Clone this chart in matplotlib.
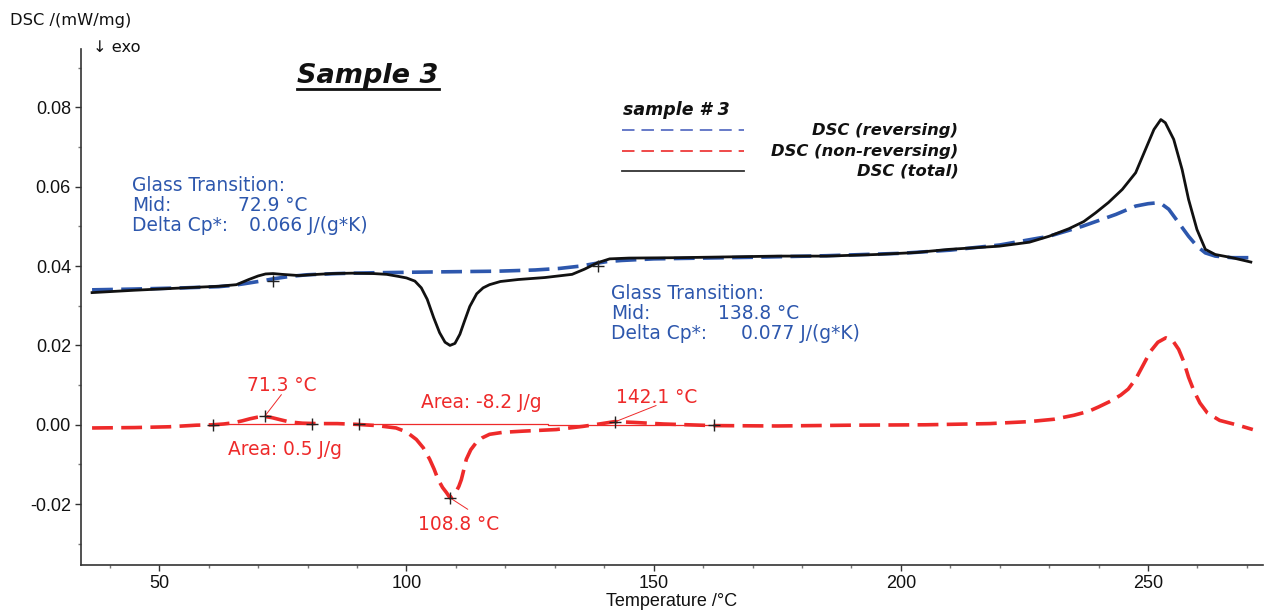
import matplotlib
matplotlib.use("Agg")
import matplotlib.pyplot as plt
from matplotlib.lines import Line2D
from matplotlib.ticker import MultipleLocator, FixedLocator

plt.rcParams['font.family'] = ['DejaVu Sans']
plt.rcParams['lines.scale_dashes'] = False

# ---------------- data ----------------
t_total = [36.4, 45, 55, 62, 65.6, 68.1, 70, 71.5, 73, 74.8, 78.2, 82, 85, 89, 93.3,
           96, 98.3, 100, 101.7, 103, 104.2, 105.5, 106.7, 107.8, 108.8, 109.8,
           110.8, 111.7, 112.8, 114.2, 115.5, 116.8, 119, 122.6, 128, 133.5, 136,
           138.6, 141.1, 145, 155, 165, 175, 185, 195, 203, 209.8, 219.9, 226, 230,
           234, 237, 239.4, 242, 244.8, 247.5, 249.5, 251.2, 252.6, 253.5, 255.2,
           256.9, 258.2, 259.9, 261.6, 263.6, 267, 270.8]
dsc_total = [0.0333, 0.0339, 0.0345, 0.0349, 0.0353, 0.0366, 0.0375, 0.0380, 0.0381,
             0.0379, 0.0376, 0.0379, 0.0381, 0.0382, 0.0381, 0.0379, 0.0374, 0.0370,
             0.0362, 0.0345, 0.0316, 0.0270, 0.0232, 0.0208, 0.0200, 0.0205, 0.0228,
             0.0260, 0.0298, 0.0330, 0.0345, 0.0353, 0.0361, 0.0366, 0.0371, 0.0379,
             0.0392, 0.0408, 0.0418, 0.0420, 0.0421, 0.0423, 0.0425, 0.0425, 0.0429,
             0.0434, 0.0442, 0.0450, 0.0460, 0.0475, 0.0494, 0.0512, 0.0534, 0.0560,
             0.0593, 0.0635, 0.0694, 0.0744, 0.0769, 0.0761, 0.0719, 0.0643, 0.0568,
             0.0492, 0.0442, 0.0429, 0.0421, 0.0410]

t_rev = [36.4, 45, 55, 62, 64.8, 67, 69, 71, 73.2, 76.5, 80, 86, 93.3, 105, 118.5,
         126, 131, 135.3, 138, 140.5, 143.5, 150, 160, 170, 185, 200, 210, 220, 230,
         236.7, 243.5, 247.5, 250, 251.6, 252.9, 254.2, 256.2, 258.2, 259.9, 261.6,
         263.6, 267, 270.8]
dsc_rev = [0.0340, 0.0342, 0.0345, 0.0348, 0.0351, 0.0355, 0.0359, 0.0363, 0.0368,
           0.0374, 0.0378, 0.0381, 0.0383, 0.0385, 0.0387, 0.0390, 0.0394, 0.0400,
           0.0406, 0.0411, 0.0414, 0.0418, 0.0420, 0.0422, 0.0426, 0.0432, 0.0440,
           0.0453, 0.0475, 0.0500, 0.0530, 0.0551, 0.0557, 0.0559, 0.0555, 0.0543,
           0.0509, 0.0475, 0.0450, 0.0433, 0.0425, 0.0421, 0.0421]

t_nonrev = [36.4, 45, 52, 57.5, 60.8, 63, 65, 66.8, 68.3, 69.8, 71.3, 72.8, 74.4,
            76.4, 79, 82, 86, 90, 94, 97.9, 100, 102, 103.4, 104.7, 105.6, 106.4,
            107.3, 108.1, 108.8, 109.5, 110.1, 110.6, 111.1, 111.6, 112.1, 113,
            114.1, 115.3, 116.8, 119.5, 123.6, 130.3, 135.7, 139, 142.1, 146, 152,
            162, 175, 190, 205, 218, 226, 231, 235, 238, 240, 242.5, 244.5, 246,
            247.5, 249, 250.5, 252, 253.6, 255, 256.2, 257.2, 258.2, 259.3, 260.5,
            262, 264.5, 268.5, 271.2]
dsc_nonrev = [-0.0008, -0.0007, -0.0005, -0.0001, 0.0000, 0.0002, 0.0005, 0.0010,
              0.0015, 0.0019, 0.0021, 0.0018, 0.0013, 0.0007, 0.0004, 0.0003, 0.0003,
              0.0001, -0.0002, -0.0008, -0.0018, -0.0037, -0.0058, -0.0087, -0.0112,
              -0.0138, -0.0158, -0.0171, -0.0184, -0.0178, -0.0167, -0.0155, -0.0138,
              -0.0113, -0.0087, -0.0063, -0.0045, -0.0033, -0.0024, -0.0019, -0.0016,
              -0.0012, -0.0004, 0.0002, 0.0008, 0.0006, 0.0002, -0.0002, -0.0003,
              -0.0001, 0.0000, 0.0003, 0.0008, 0.0014, 0.0024, 0.0034, 0.0045, 0.0060,
              0.0075, 0.0090, 0.0115, 0.0150, 0.0185, 0.0208, 0.0219, 0.0212, 0.0190,
              0.0160, 0.0120, 0.0085, 0.0055, 0.0030, 0.0011, -0.0002, -0.0012]

# evaluation markers on the non-reversing curve
mark_t = [60.8, 71.3, 80.9, 90.4, 108.8, 142.1, 162.2]
mark_v = [0.0000, 0.0021, 0.0003, 0.0002, -0.0184, 0.0007, 0.0000]
# glass-transition mid points on the reversing curve
tg_t = [72.9, 138.8]
tg_v = [0.0363, 0.0400]
# integration baselines
base1_t = [60.8, 80.9]
base1_v = [0.0002, 0.0002]
base2_t = [90.4, 128.6, 128.6, 162.2]
base2_v = [0.0003, 0.0003, 0.0000, 0.0000]

x_ticks = [50, 100, 150, 200, 250]
y_ticks = [-0.02, 0.00, 0.02, 0.04, 0.06, 0.08]

BLUE = '#2d57ad'
RED = '#ee2a2a'
BLACK = '#111111'

W, H = 1268, 615
fig = plt.figure(figsize=(W / 100, H / 100), dpi=100)
ax = fig.add_axes([80.7 / W, 1 - 565.3 / H, (1262.7 - 80.7) / W, (565.3 - 49.3) / H])

ax.plot(t_rev, dsc_rev, color=BLUE, lw=2.6, linestyle=(0, (15, 6)), zorder=3,
        solid_joinstyle='round', dash_joinstyle='round')
ax.plot(t_total, dsc_total, color=BLACK, lw=2.0, zorder=4, solid_joinstyle='round')
ax.plot(t_nonrev, dsc_nonrev, color=RED, lw=2.6, linestyle=(0, (15, 6)), zorder=3,
        dash_joinstyle='round')
ax.plot(base1_t, base1_v, color=RED, lw=0.9, zorder=2)
ax.plot(base2_t, base2_v, color=RED, lw=0.9, zorder=2)
ax.plot(mark_t, mark_v, linestyle='none', marker='+', ms=9, mew=1.0, color='#222222', zorder=5)
ax.plot(tg_t, tg_v, linestyle='none', marker='+', ms=9, mew=1.0, color='#222222', zorder=5)

ax.set_xlim(34.1, 273.2)
ax.set_ylim(-0.0354, 0.0946)
for s in ['top', 'right']:
    ax.spines[s].set_visible(False)
for s in ['left', 'bottom']:
    ax.spines[s].set_linewidth(1.2)
    ax.spines[s].set_color('#333333')

ax.xaxis.set_major_locator(FixedLocator(x_ticks))
ax.xaxis.set_minor_locator(MultipleLocator(10))
ax.yaxis.set_major_locator(FixedLocator(y_ticks))
ax.yaxis.set_minor_locator(MultipleLocator(0.01))
ax.set_xticklabels([str(v) for v in x_ticks])
ax.set_yticklabels(['%.2f' % v for v in y_ticks])
ax.tick_params(which='major', direction='out', length=4, width=1.0, color='#333333',
               labelsize=13, pad=3)
ax.tick_params(which='minor', direction='out', length=2.5, width=1.0, color='#777777')
for lab in ax.get_xticklabels() + ax.get_yticklabels():
    lab.set_family('Liberation Sans')
    lab.set_color('#111111')

ax.set_xlabel('Temperature /°C', family='Liberation Sans', fontsize=13, color='#111111',
              labelpad=1)

def fx(x):
    return x / W

def fy(y):
    return 1 - y / H

fig.text(fx(10), fy(20.7), 'DSC /(mW/mg)', fontsize=11.7, va='center', ha='left', color='#111111')
fig.text(fx(93), fy(48), '↓ exo', fontsize=11.7, va='center', ha='left', color='#111111')

# title with underline
title = fig.text(fx(368), fy(83), 'Sample 3', fontsize=19.5, fontweight='bold', style='italic',
                 ha='center', va='baseline', color='#111111')
fig.canvas.draw()
bb = title.get_window_extent(fig.canvas.get_renderer())
fig.add_artist(Line2D([bb.x0 / W, bb.x1 / W], [fy(88.5), fy(88.5)], transform=fig.transFigure,
                      color='#111111', lw=2.0))

# legend drawn as in the original software
fig.text(fx(622.7), fy(115), 'sample # 3', fontsize=12.5, fontweight='bold', style='italic',
         ha='left', va='baseline', color='#111111')
leg = [('DSC (reversing)', '#5a6fc4', (0, (9, 5)), 130),
       ('DSC (non-reversing)', '#ee3a3a', (0, (9, 5)), 150.7),
       ('DSC (total)', '#333333', '-', 170.5)]
for lab, col, ls, yy in leg:
    fig.add_artist(Line2D([fx(622), fx(744)], [fy(yy), fy(yy)], transform=fig.transFigure,
                          color=col, lw=1.3, linestyle=ls))
    fig.text(fx(958.3), fy(yy + 5.5), lab, fontsize=11.8, fontweight='bold', style='italic',
             ha='right', va='baseline', color='#111111')

# glass transition blocks (blue)
FS = 13.4
ax.text(44.5, 0.05885, 'Glass Transition:', color=BLUE, fontsize=FS, va='baseline')
ax.text(44.5, 0.0538, 'Mid:', color=BLUE, fontsize=FS, va='baseline')
ax.text(65.9, 0.0538, '72.9 °C', color=BLUE, fontsize=FS, va='baseline')
ax.text(44.5, 0.04877, 'Delta Cp*:', color=BLUE, fontsize=FS, va='baseline')
ax.text(68.1, 0.04877, '0.066 J/(g*K)', color=BLUE, fontsize=FS, va='baseline')

ax.text(141.4, 0.03174, 'Glass Transition:', color=BLUE, fontsize=FS, va='baseline')
ax.text(141.4, 0.0267, 'Mid:', color=BLUE, fontsize=FS, va='baseline')
ax.text(163.0, 0.0267, '138.8 °C', color=BLUE, fontsize=FS, va='baseline')
ax.text(141.4, 0.02166, 'Delta Cp*:', color=BLUE, fontsize=FS, va='baseline')
ax.text(167.7, 0.02166, '0.077 J/(g*K)', color=BLUE, fontsize=FS, va='baseline')

# peak / area annotations (red)
arrow = dict(arrowstyle='-', color=RED, lw=0.7, shrinkA=0, shrinkB=0)
ax.text(74.7, 0.00846, '71.3 °C', color=RED, fontsize=FS, ha='center', va='baseline')
ax.annotate('', xy=(71.3, 0.0021), xytext=(74.7, 0.0076), arrowprops=arrow)
ax.text(63.9, -0.0075, 'Area: 0.5 J/g', color=RED, fontsize=FS, va='baseline')
ax.text(103.0, 0.00428, 'Area: -8.2 J/g', color=RED, fontsize=FS, va='baseline')
ax.text(102.3, -0.0264, '108.8 °C', color=RED, fontsize=FS, va='baseline')
ax.annotate('', xy=(108.8, -0.0184), xytext=(112.4, -0.0213), arrowprops=arrow)
ax.text(142.3, 0.00537, '142.1 °C', color=RED, fontsize=FS, va='baseline')
ax.annotate('', xy=(142.1, 0.0007), xytext=(150.5, 0.00486), arrowprops=arrow)

fig.savefig('out.png', dpi=100)
